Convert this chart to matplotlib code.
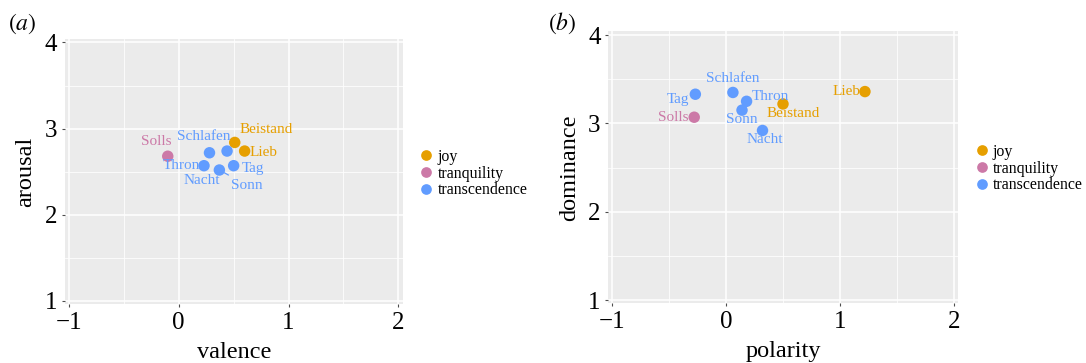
import matplotlib
matplotlib.use("Agg")
import matplotlib.pyplot as plt
from matplotlib.lines import Line2D

plt.rcParams['font.family'] = ['Liberation Serif', 'DejaVu Serif']
plt.rcParams['mathtext.fontset'] = 'stix'

# word-level scores
words = ['Beistand', 'Lieb', 'Solls', 'Schlafen', 'Thron', 'Nacht', 'Sonn', 'Tag']
emotion = ['joy', 'joy', 'tranquility', 'transcendence', 'transcendence',
           'transcendence', 'transcendence', 'transcendence']
valence = [0.51, 0.60, -0.10, 0.44, 0.28, 0.23, 0.37, 0.50]
arousal = [2.84, 2.74, 2.68, 2.74, 2.72, 2.57, 2.52, 2.57]
polarity = [0.50, 1.22, -0.28, 0.06, 0.18, 0.32, 0.14, -0.27]
dominance = [3.22, 3.36, 3.07, 3.35, 3.25, 2.92, 3.15, 3.33]

categories = ['joy', 'tranquility', 'transcendence']
colors = {'joy': '#E69F00', 'tranquility': '#CC79A7', 'transcendence': '#619CFF'}

# label placement (pixel offsets from the point) and whether a segment is drawn
offsets_a = {'Beistand': (31, 13, False), 'Lieb': (19, -1, False), 'Solls': (-11, 15, False),
             'Schlafen': (-23, 15, False), 'Thron': (-28, -13, False), 'Nacht': (-2, -15, True),
             'Sonn': (27, -15, True), 'Tag': (19, -3, False)}
offsets_b = {'Beistand': (10, -10, False), 'Lieb': (-18, 0, False), 'Solls': (-21, 0, False),
             'Schlafen': (0, 14, True), 'Thron': (24, 5, False), 'Nacht': (2, -9, False),
             'Sonn': (0, -9, False), 'Tag': (-17, -5, False)}


def draw_panel(ax, xs, ys, offsets, xlabel, ylabel, leg_anchor):
    ax.set_facecolor('#EBEBEB')
    for s in ax.spines.values():
        s.set_visible(False)
    ax.set_xlim(-1.035, 2.04)
    ax.set_ylim(0.965, 4.04)
    ax.set_xticks([-1, 0, 1, 2])
    ax.set_yticks([1, 2, 3, 4])
    ax.set_xticks([-0.5, 0.5, 1.5], minor=True)
    ax.set_yticks([1.5, 2.5, 3.5], minor=True)
    ax.set_xticklabels(['\u22121', '0', '1', '2'])
    ax.grid(True, which='major', color='white', linewidth=1.1)
    ax.grid(True, which='minor', color='white', linewidth=0.55)
    ax.set_axisbelow(True)
    ax.tick_params(which='major', length=2.5, width=0.8, color='#4D4D4D',
                   labelsize=18, pad=3)
    ax.tick_params(which='minor', length=0)

    for cat in categories:
        idx = [i for i, e in enumerate(emotion) if e == cat]
        ax.scatter([xs[i] for i in idx], [ys[i] for i in idx], s=68,
                   color=colors[cat], edgecolors='none', zorder=3)

    for i, w in enumerate(words):
        dx, dy, seg = offsets[w]
        c = colors[emotion[i]]
        arrow = None
        if seg:
            arrow = dict(arrowstyle='-', color=c, lw=0.9, shrinkA=1, shrinkB=4)
        ax.annotate(w, (xs[i], ys[i]), xytext=(dx, dy), textcoords='offset pixels',
                    ha='center', va='center', fontsize=11, color=c,
                    arrowprops=arrow, zorder=4)

    ax.set_xlabel(xlabel, fontsize=17.5, labelpad=6)
    ax.set_ylabel(ylabel, fontsize=17.5, labelpad=6)

    handles = [Line2D([], [], marker='o', linestyle='none', markersize=7.7,
                      markerfacecolor=colors[c], markeredgecolor='none') for c in categories]
    leg = ax.legend(handles, categories, loc='center left', bbox_to_anchor=leg_anchor,
                    bbox_transform=ax.figure.transFigure, frameon=False, fontsize=11.4,
                    handlelength=1.0, handletextpad=0.2, labelspacing=0.05,
                    borderpad=0, borderaxespad=0)
    return leg


fig = plt.figure(figsize=(10.86, 3.63), dpi=100)
ax1 = fig.add_axes([0.0599, 0.1625, 0.311, 0.730])
ax2 = fig.add_axes([0.5601, 0.1645, 0.3223, 0.7488])

draw_panel(ax1, valence, arousal, offsets_a, 'valence', 'arousal', (0.3853, 0.522))
draw_panel(ax2, polarity, dominance, offsets_b, 'polarity', 'dominance', (0.8967, 0.5353))

fig.text(0.0075, 0.935, r'$(a)$', fontsize=17, va='center', ha='left')
fig.text(0.505, 0.935, r'$(b)$', fontsize=17, va='center', ha='left')

fig.savefig('out.png', dpi=100)
